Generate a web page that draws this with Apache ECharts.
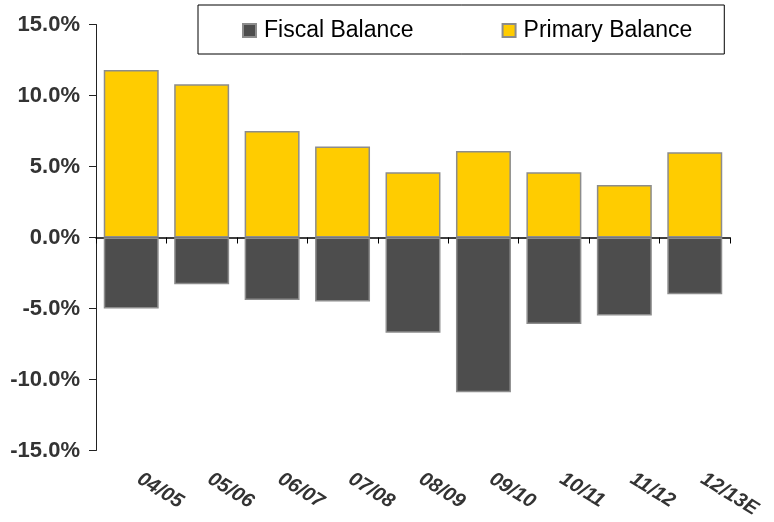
<!DOCTYPE html>
<html>
<head>
<meta charset="utf-8">
<script src="https://cdn.jsdelivr.net/npm/echarts@6/dist/echarts.min.js"></script>
<style>
  html, body { margin: 0; padding: 0; background: #ffffff; }
  #chart { width: 774px; height: 522px; }
</style>
</head>
<body>
<div id="chart"></div>
<script>
// Fiscal years (12/13 is an estimate)
const years = ['04/05', '05/06', '06/07', '07/08', '08/09', '09/10', '10/11', '11/12', '12/13E'];
// Balances as % of GDP
const fiscalBalance = [-5.0, -3.3, -4.4, -4.5, -6.7, -10.9, -6.1, -5.5, -4.0];
const primaryBalance = [11.8, 10.8, 7.5, 6.4, 4.6, 6.1, 4.6, 3.7, 6.0];
// Value axis range
const yMin = -15, yMax = 15, yStep = 5;

const chart = echarts.init(document.getElementById('chart'), null, { renderer: 'canvas' });

const barBorder = { borderColor: '#8c8c8c', borderWidth: 1.5 };

chart.setOption({
  animation: false,
  backgroundColor: '#ffffff',
  grid: {
    left: 96, right: 44, top: 24.5, bottom: 71.5,
    containLabel: false,
    outerBoundsMode: 'none'
  },
  legend: {
    data: ['Fiscal Balance', 'Primary Balance'],
    left: 198,
    top: 5,
    padding: [14, 32, 12, 44],
    itemWidth: 13,
    itemHeight: 13,
    itemGap: 88,
    borderColor: '#000000',
    borderWidth: 1,
    backgroundColor: '#ffffff',
    icon: 'rect',
    textStyle: {
      fontFamily: 'Liberation Sans, Arial, sans-serif',
      fontSize: 23,
      color: '#000000',
      padding: [0, 0, 0, 3]
    }
  },
  xAxis: [
    {
      // category labels along the bottom of the plot
      type: 'category',
      data: years,
      position: 'bottom',
      axisLine: { show: false, onZero: false },
      axisTick: { show: false },
      axisLabel: {
        interval: 0,
        rotate: -32,
        margin: 22,
        padding: [0, 0, 0, 9],
        fontFamily: 'Liberation Sans, Arial, sans-serif',
        fontSize: 20,
        fontWeight: 'bold',
        fontStyle: 'italic',
        color: '#333333'
      },
      splitLine: { show: false }
    },
    {
      // zero line with category boundary ticks
      type: 'category',
      data: years,
      position: 'bottom',
      axisLine: { show: true, onZero: true, lineStyle: { color: '#000000', width: 1.5 } },
      axisTick: { show: true, interval: 0, length: 6, lineStyle: { color: '#000000', width: 1 } },
      axisLabel: { show: false },
      splitLine: { show: false }
    }
  ],
  yAxis: {
    type: 'value',
    min: yMin,
    max: yMax,
    interval: yStep,
    axisLine: { show: true, lineStyle: { color: '#222222', width: 1 } },
    axisTick: { show: true, length: 7, lineStyle: { color: '#222222' } },
    splitLine: { show: false },
    axisLabel: {
      margin: 16,
      fontFamily: 'Liberation Sans, Arial, sans-serif',
      fontSize: 22,
      fontWeight: 'bold',
      color: '#333333',
      formatter: v => v.toFixed(1) + '%'
    }
  },
  series: [
    {
      name: 'Fiscal Balance',
      type: 'bar',
      xAxisIndex: 0,
      data: fiscalBalance,
      barWidth: '78%',
      barGap: '-100%',
      itemStyle: Object.assign({ color: '#4d4d4d' }, barBorder)
    },
    {
      name: 'Primary Balance',
      type: 'bar',
      xAxisIndex: 0,
      data: primaryBalance,
      barWidth: '78%',
      barGap: '-100%',
      itemStyle: Object.assign({ color: '#ffcc00' }, barBorder)
    }
  ]
});
</script>
</body>
</html>
